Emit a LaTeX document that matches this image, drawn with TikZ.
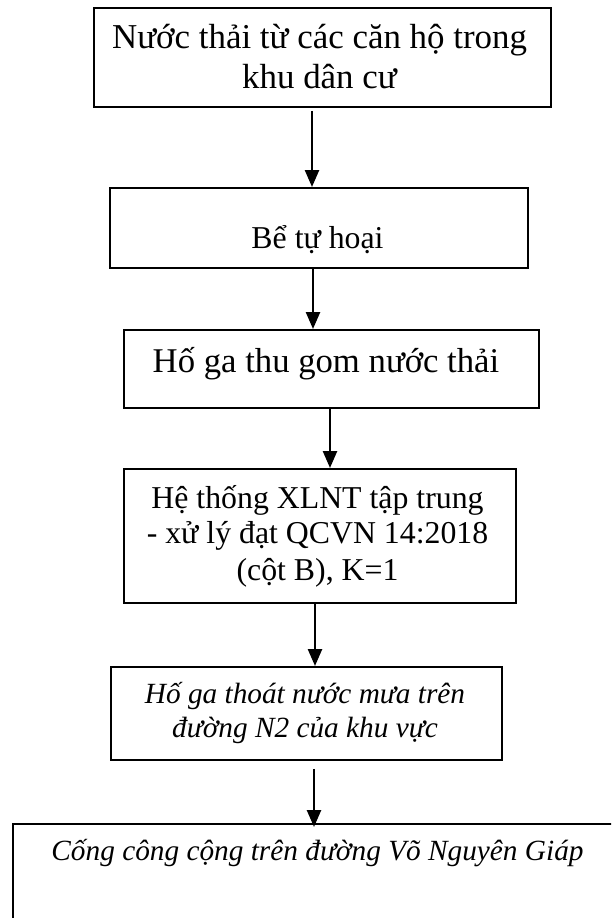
\documentclass[tikz,border=0pt]{standalone}
\usepackage{fontspec}
\setmainfont{Liberation Serif}
\usetikzlibrary{arrows.meta}
\begin{document}
\begin{tikzpicture}[x=1pt,y=-1pt,
  box/.style={draw, line width=1.8pt, inner sep=0pt, anchor=north west},
  arr/.style={line width=2.5pt, -{Triangle[width=14pt,length=17pt]}},
  lbl/.style={align=center, inner sep=0pt, anchor=base}]
\fill[white] (0,0) rectangle (611,918);
\clip (0,0) rectangle (611,918);
% boxes
\node[box, minimum width=457pt, minimum height=99pt] (b1) at (93,7) {};
\node[box, minimum width=418pt, minimum height=80pt] (b2) at (109,187) {};
\node[box, minimum width=415pt, minimum height=78pt] (b3) at (123,329) {};
\node[box, minimum width=392pt, minimum height=134pt] (b4) at (123,468) {};
\node[box, minimum width=391pt, minimum height=93pt] (b5) at (110,666) {};
\node[box, minimum width=700pt, minimum height=200pt] (b6) at (12,823) {};
% texts
\node[lbl, font=\fontsize{34.9}{40}\selectfont] (t1a) at (319.5,48) {Nước thải từ các căn hộ trong};
\node[lbl, font=\fontsize{34.9}{40}\selectfont] (t1b) at (319.5,88) {khu dân cư};
\node[lbl, font=\fontsize{31.8}{36}\selectfont] (t2) at (317.5,248) {Bể tự hoại};
\node[lbl, font=\fontsize{34.7}{40}\selectfont] (t3) at (326,372) {Hố ga thu gom nước thải};
\node[lbl, font=\fontsize{31.8}{36}\selectfont] (t4a) at (317.5,508) {Hệ thống XLNT tập trung};
\node[lbl, font=\fontsize{31.8}{36}\selectfont] (t4b) at (317.5,543) {- xử lý đạt QCVN 14:2018};
\node[lbl, font=\fontsize{31.8}{36}\selectfont] (t4c) at (317.5,580) {(cột B), K=1};
\node[lbl, font=\fontsize{29.3}{34}\selectfont\itshape] (t5a) at (305,703) {Hố ga thoát nước mưa trên};
\node[lbl, font=\fontsize{29.3}{34}\selectfont\itshape] (t5b) at (305,737) {đường N2 của khu vực};
\node[lbl, font=\fontsize{29.3}{34}\selectfont\itshape] (t6) at (317.5,860) {Cống công cộng trên đường Võ Nguyên Giáp};
% arrow columns
\coordinate (c1) at (312,0);
\coordinate (c2) at (313,0);
\coordinate (c3) at (330,0);
\coordinate (c4) at (315,0);
\coordinate (c5) at (314,0);
\draw[arr, shorten <=3pt] (b1.south -| c1) -- (b2.north -| c1);
\draw[arr] (b2.south -| c2) -- (b3.north -| c2);
\draw[arr] (b3.south -| c3) -- (b4.north -| c3);
\draw[arr] (b4.south -| c4) -- (b5.north -| c4);
\draw[arr, shorten <=8pt, shorten >=-4pt] (b5.south -| c5) -- (b6.north -| c5);
\end{tikzpicture}
\end{document}
